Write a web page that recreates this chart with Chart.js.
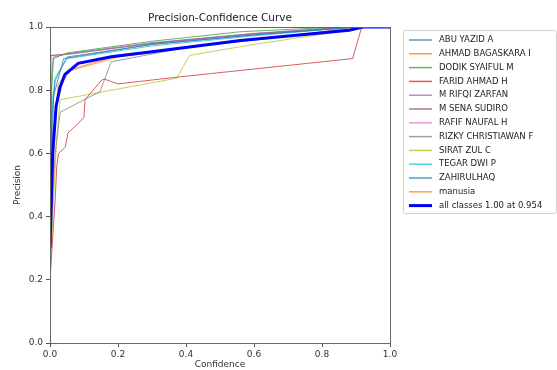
<!DOCTYPE html>
<html lang="en">
<head>
<meta charset="UTF-8">
<title>Precision-Confidence Curve</title>
<script src="https://cdn.jsdelivr.net/npm/chart.js"></script>
</head>
<body style="margin:0; background-color: white;">
<canvas id="pcChart" width="557" height="370"></canvas>
<script>
// class names, same order as the legend
var classNames = ['ABU YAZID A', 'AHMAD BAGASKARA I', 'DODIK SYAIFUL M', 'FARID AHMAD H',
    'M RIFQI ZARFAN', 'M SENA SUDIRO', 'RAFIF NAUFAL H', 'RIZKY CHRISTIAWAN F',
    'SIRAT ZUL C', 'TEGAR DWI P', 'ZAHIRULHAQ', 'manusia'];
var allLabel = 'all classes 1.00 at 0.954';
var xTicks = [0, 0.2, 0.4, 0.6, 0.8, 1.0];
var yTicks = [0, 0.2, 0.4, 0.6, 0.8, 1.0];

// [confidence, precision]
var abuYazid = [[0, 0.35], [0.005, 0.7], [0.015, 0.83], [0.05, 0.905], [0.3, 0.945], [0.6, 0.975], [0.9, 1.0], [1, 1]];
var ahmadBagaskara = [[0, 0.25], [0.01, 0.65], [0.024, 0.82], [0.06, 0.865], [0.2, 0.91], [0.5, 0.95], [0.9, 0.995], [0.91, 1], [1, 1]];
var dodikSyaiful = [[0, 0.4], [0.005, 0.8], [0.01, 0.9], [0.05, 0.918], [0.3, 0.955], [0.56, 0.985], [0.85, 1.0], [1, 1]];
var faridAhmad = [[0, 0.2], [0.015, 0.45], [0.02, 0.56], [0.025, 0.6], [0.045, 0.62], [0.053, 0.665], [0.088, 0.7], [0.1, 0.715],
    [0.103, 0.77], [0.152, 0.832], [0.16, 0.835], [0.2, 0.82], [0.38, 0.842], [0.89, 0.9], [0.917, 1.0], [1, 1]];
var mRifqi = [[0, 0.45], [0.005, 0.85], [0.01, 0.905], [0.05, 0.915], [0.3, 0.95], [0.6, 0.98], [0.88, 1], [1, 1]];
var mSena = [[0, 0.3], [0.002, 0.91], [0.05, 0.913], [0.3, 0.948], [0.6, 0.978], [0.88, 1], [1, 1]];
var rafifNaufal = [[0, 0.2], [0.003, 0.91], [0.05, 0.915], [0.3, 0.95], [0.6, 0.979], [0.88, 1], [1, 1]];
var rizkyChristiawan = [[0, 0.3], [0.015, 0.6], [0.03, 0.73], [0.1, 0.77], [0.147, 0.795], [0.18, 0.89], [0.4, 0.935], [0.7, 0.97], [0.9, 1], [1, 1]];
var siratZul = [[0, 0.2], [0.01, 0.45], [0.02, 0.65], [0.03, 0.77], [0.373, 0.838], [0.41, 0.91], [0.6, 0.945], [0.85, 0.985], [0.91, 1], [1, 1]];
var tegarDwi = [[0, 0.3], [0.006, 0.75], [0.015, 0.84], [0.05, 0.9], [0.3, 0.94], [0.6, 0.972], [0.9, 1], [1, 1]];
var zahirulhaq = [[0, 0.3], [0.01, 0.78], [0.04, 0.9], [0.3, 0.945], [0.6, 0.975], [0.9, 1], [1, 1]];
var manusia = [[0, 0.22], [0.012, 0.65], [0.025, 0.81], [0.06, 0.862], [0.2, 0.905], [0.5, 0.948], [0.9, 0.995], [0.91, 1], [1, 1]];
var allClasses = [[0, 0.3], [0.008, 0.6], [0.018, 0.75], [0.03, 0.81], [0.044, 0.85], [0.083, 0.885], [0.18, 0.906], [0.3, 0.922],
    [0.56, 0.957], [0.88, 0.99], [0.92, 1], [1, 1]];

var classCurves = [abuYazid, ahmadBagaskara, dodikSyaiful, faridAhmad, mRifqi, mSena, rafifNaufal,
    rizkyChristiawan, siratZul, tegarDwi, zahirulhaq, manusia];

// matplotlib tab10 cycle, a bit faded like the blurry original
var classColors = ['rgba(31,119,180,0.75)', 'rgba(255,127,14,0.75)', 'rgba(44,160,44,0.75)', 'rgba(214,39,40,0.75)',
    'rgba(148,103,189,0.75)', 'rgba(140,86,75,0.75)', 'rgba(227,119,194,0.75)', 'rgba(127,127,127,0.75)',
    'rgba(188,189,34,0.75)', 'rgba(23,190,207,0.75)', 'rgba(31,119,180,0.75)', 'rgba(255,127,14,0.75)'];

function toPoints(arr) {
    return arr.map(function (p) { return { x: p[0], y: p[1] }; });
}

var datasets = classNames.map(function (name, i) {
    return {
        label: name,
        data: toPoints(classCurves[i]),
        borderColor: classColors[i],
        borderWidth: 1,
        order: 1
    };
});
datasets.push({
    label: allLabel,
    data: toPoints(allClasses),
    borderColor: '#0000ff',
    borderWidth: 3,
    order: 0
});

var tickFont = { family: 'DejaVu Sans', size: 9 };

// title, box around the axes and the legend panel
var decorPlugin = {
    id: 'decor',
    afterDraw: function (chart) {
        var ctx = chart.ctx;
        var a = chart.chartArea;
        ctx.save();
        ctx.strokeStyle = '#666';
        ctx.lineWidth = 1;
        ctx.strokeRect(a.left + 0.5, a.top + 0.5, a.right - a.left, a.bottom - a.top);

        ctx.fillStyle = '#222';
        ctx.font = '10.5px "DejaVu Sans"';
        ctx.textAlign = 'center';
        ctx.textBaseline = 'middle';
        ctx.fillText('Precision-Confidence Curve', (a.left + a.right) / 2, 18);

        // legend
        var lx = 403, ly = 30, lw = 153, lh = 183;
        ctx.strokeStyle = '#d0d0d0';
        ctx.beginPath();
        ctx.roundRect(lx + 0.5, ly + 0.5, lw, lh, 2);
        ctx.stroke();
        ctx.font = '8.5px "DejaVu Sans"';
        ctx.textAlign = 'left';
        chart.data.datasets.forEach(function (ds, i) {
            var y = 40 + i * 13.8;
            ctx.strokeStyle = ds.borderColor;
            ctx.lineWidth = ds.borderWidth === 3 ? 3 : 1.5;
            ctx.beginPath();
            ctx.moveTo(409, y);
            ctx.lineTo(432, y);
            ctx.stroke();
            ctx.fillStyle = '#222';
            ctx.fillText(ds.label, 439, y);
        });
        ctx.restore();
    }
};

var ctx = document.getElementById('pcChart').getContext('2d');
var pcChart = new Chart(ctx, {
    type: 'line',
    data: { datasets: datasets },
    options: {
        responsive: false,
        animation: false,
        layout: { padding: { top: 27, right: 167, left: 0, bottom: 0 } },
        elements: { point: { radius: 0 }, line: { tension: 0 } },
        plugins: { legend: { display: false }, tooltip: { enabled: false } },
        scales: {
            x: {
                type: 'linear', min: 0, max: 1,
                afterBuildTicks: function (s) { s.ticks = xTicks.map(function (v) { return { value: v }; }); },
                afterFit: function (s) { s.height = 27; },
                ticks: { font: tickFont, color: '#333', padding: 2, callback: function (v) { return v.toFixed(1); } },
                grid: { drawOnChartArea: false, tickLength: 4, color: '#555' },
                border: { color: '#666' },
                title: { display: true, text: 'Confidence', font: tickFont, color: '#333', padding: { top: 0, bottom: 0 } }
            },
            y: {
                type: 'linear', min: 0, max: 1,
                afterBuildTicks: function (s) { s.ticks = yTicks.map(function (v) { return { value: v }; }); },
                afterFit: function (s) { s.width = 50; },
                ticks: { font: tickFont, color: '#333', padding: 3, callback: function (v) { return v.toFixed(1); } },
                grid: { drawOnChartArea: false, tickLength: 4, color: '#555' },
                border: { color: '#666' },
                title: { display: true, text: 'Precision', font: tickFont, color: '#333', padding: { top: 12, bottom: 0 } }
            }
        }
    },
    plugins: [decorPlugin]
});
</script>
</body>
</html>
